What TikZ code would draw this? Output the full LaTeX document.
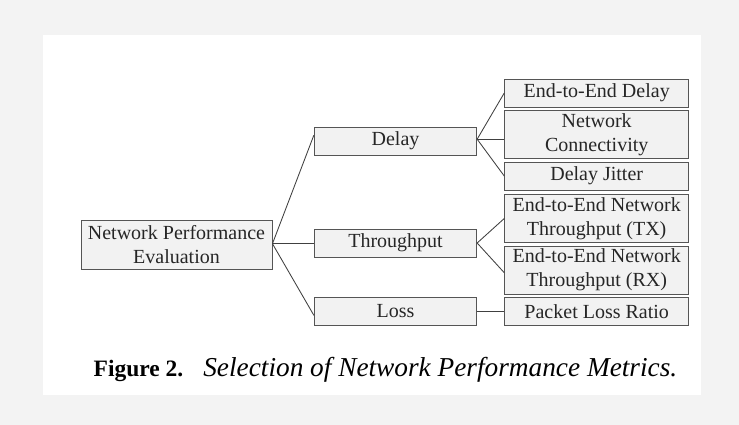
\documentclass[tikz,border=0pt]{standalone}
\usepackage{fontspec}
\setmainfont{Liberation Serif}
\usetikzlibrary{calc}
\definecolor{bggray}{HTML}{F3F3F3}
\definecolor{boxfill}{HTML}{F2F2F2}
\definecolor{boxline}{HTML}{555555}
\definecolor{wire}{HTML}{404040}
\definecolor{txt}{HTML}{262626}
\tikzset{
  metric/.style={draw=boxline, line width=0.9pt, fill=boxfill, text=txt, inner sep=0pt,
    align=center, font=\fontsize{20}{24}\selectfont},
  wirel/.style={draw=wire, line width=0.85pt}
}
\begin{document}
\begin{tikzpicture}[x=1pt,y=-1pt]
\useasboundingbox (0,0) rectangle (739,425);
\fill[bggray] (0,0) rectangle (739,425);
\fill[white] (43,35) rectangle (701,395);
% nodes
\node[metric, minimum width=191pt, minimum height=48.7pt] (root) at (176.5,244.7) {Network Performance\\Evaluation};
\node[metric, minimum width=162.4pt, minimum height=28.3pt] (delay) at (395.5,141.2) {Delay};
\node[metric, minimum width=162.4pt, minimum height=28pt] (thr) at (395.5,243) {Throughput};
\node[metric, minimum width=162.4pt, minimum height=28pt] (loss) at (395.5,311.3) {Loss};
\node[metric, minimum width=184pt, minimum height=28pt] (e2e) at (596.7,93) {End-to-End Delay};
\node[metric, minimum width=184pt, minimum height=48pt] (nc) at (596.7,134.5) {Network\\Connectivity};
\node[metric, minimum width=184pt, minimum height=28pt] (dj) at (596.7,176) {Delay Jitter};
\node[metric, minimum width=184pt, minimum height=48pt] (tx) at (596.7,218.5) {End-to-End Network\\Throughput (TX)};
\node[metric, minimum width=184pt, minimum height=48pt] (rx) at (596.7,270) {End-to-End Network\\Throughput (RX)};
\node[metric, minimum width=184pt, minimum height=28pt] (plr) at (596.7,311.3) {Packet Loss Ratio};
% junctions
\coordinate (rj) at ([yshift=1pt]root.east);
\coordinate (dl) at ([yshift=2pt]delay.east);
% connectors
\draw[wirel] (rj) -- ([yshift=6pt]delay.west);
\draw[wirel] (rj) -- (rj -| thr.west);
\draw[wirel] (rj) -- ([yshift=-4pt]loss.west);
\draw[wirel] (dl) -- (e2e.west);
\draw[wirel] (dl) -- (dl -| nc.west);
\draw[wirel] (dl) -- (dj.west);
\draw[wirel] (thr.east) -- (tx.west);
\draw[wirel] (thr.east) -- ([yshift=-2.7pt]rx.west);
\draw[wirel] (loss.east) -- (plr.west);
% caption
\node[anchor=base west, inner sep=0pt, text=black] (cap) at (93.5,376.7)
  {{\fontsize{23.5}{28}\selectfont\bfseries Figure 2.}\hspace{20pt}{\fontsize{27.3}{31}\selectfont\itshape Selection of Network Performance Metrics.}};
\end{tikzpicture}
\end{document}
